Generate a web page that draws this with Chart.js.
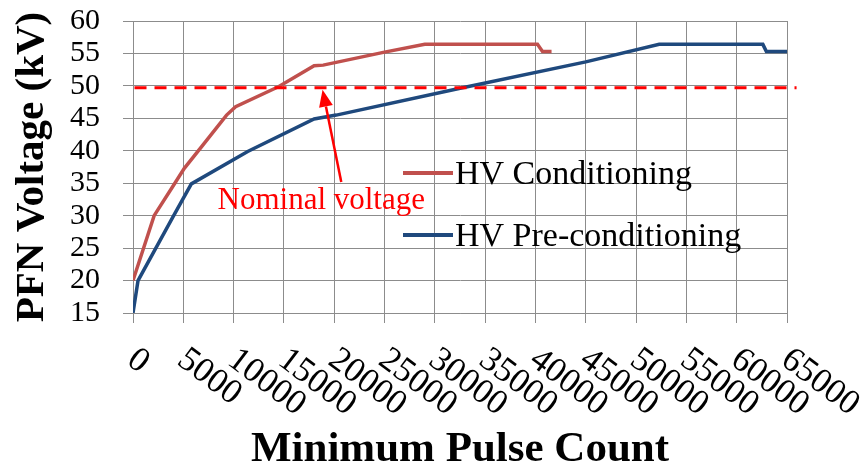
<!DOCTYPE html>
<html><head><meta charset="utf-8">
<script src="https://cdn.jsdelivr.net/npm/chart.js@4.4.1/dist/chart.umd.min.js"></script>
<style>html,body{margin:0;padding:0;background:#fff;}#wrap{width:866px;height:469px;}</style>
</head><body><div id="wrap"><canvas id="c" width="866" height="469"></canvas></div>
<script>
const xTickLabels = ['0','5000','10000','15000','20000','25000','30000','35000','40000','45000','50000','55000','60000','65000'];
const yTickLabels = ['15','20','25','30','35','40','45','50','55','60'];
const seriesNames = ['HV Conditioning','HV Pre-conditioning'];
const condCounts  = [0, 2100, 4000, 5100, 7000, 9300, 10200, 14500, 18000, 18900, 25000, 29000, 40200, 40700, 41600];
const condVoltage = [20, 30, 34.6, 37.3, 41.0, 45.5, 46.8, 49.9, 53.1, 53.2, 55.2, 56.4, 56.4, 55.3, 55.3];
const preCounts   = [0, 500, 4000, 5800, 11400, 18000, 20200, 32400, 45000, 52300, 62600, 62950, 65000];
const preVoltage  = [15, 20, 29.9, 34.9, 39.9, 44.9, 45.5, 49.6, 53.7, 56.4, 56.4, 55.3, 55.3];
const nominalCounts  = [150, 65950];
const nominalVoltage = [49.7, 49.7];
const annotText = 'Nominal voltage';
const annotTextPos = [8400, 31];
const arrowTail = [20700, 35.2];
const arrowTip  = [18840, 49.4];

const toXY = (xs, ys) => xs.map((x, i) => ({x, y: ys[i]}));
const SERIF = '"Liberation Serif", "Times New Roman", serif';
const GRID = '#8C8C8C';

const decor = {
  id: 'decor',
  afterDatasetsDraw(chart) {
    const ctx = chart.ctx, xs = chart.scales.x, ys = chart.scales.y, ca = chart.chartArea;
    ctx.save();
    ctx.font = '35px ' + SERIF;
    ctx.fillStyle = '#000';
    ctx.textAlign = 'left';
    ctx.textBaseline = 'middle';
    xs.ticks.forEach((t, i) => {
      const px = xs.getPixelForValue(t.value);
      ctx.save();
      ctx.translate(px - 2, ca.bottom + 43);
      ctx.rotate(37 * Math.PI / 180);
      ctx.fillText(xTickLabels[i], 0, 0);
      ctx.restore();
    });
    ctx.restore();

    const ds = chart.data.datasets;
    ctx.save();
    ctx.font = '34px ' + SERIF;
    ctx.textAlign = 'left';
    ctx.textBaseline = 'alphabetic';
    [0, 1].forEach((k) => {
      const ly = ca.top + 152 + k * 62;
      ctx.strokeStyle = ds[k].borderColor;
      ctx.lineWidth = 4;
      ctx.beginPath();
      ctx.moveTo(ca.left + 270, ly);
      ctx.lineTo(ca.left + 320, ly);
      ctx.stroke();
      ctx.fillStyle = '#000';
      ctx.fillText(seriesNames[k], ca.left + 322, ly + 11);
    });
    ctx.restore();

    ctx.save();
    ctx.fillStyle = '#FF0000';
    ctx.strokeStyle = '#FF0000';
    ctx.font = '31px ' + SERIF;
    ctx.textBaseline = 'alphabetic';
    ctx.fillText(annotText, xs.getPixelForValue(annotTextPos[0]), ys.getPixelForValue(annotTextPos[1]));
    const x0 = xs.getPixelForValue(arrowTail[0]), y0 = ys.getPixelForValue(arrowTail[1]);
    const x1 = xs.getPixelForValue(arrowTip[0]), y1 = ys.getPixelForValue(arrowTip[1]);
    const ang = Math.atan2(y1 - y0, x1 - x0);
    const hl = 17, hw = 7;
    const bx = x1 - hl * Math.cos(ang), by = y1 - hl * Math.sin(ang);
    ctx.lineWidth = 2.5;
    ctx.beginPath();
    ctx.moveTo(x0, y0);
    ctx.lineTo(bx, by);
    ctx.stroke();
    ctx.beginPath();
    ctx.moveTo(x1, y1);
    ctx.lineTo(bx + hw * Math.sin(ang), by - hw * Math.cos(ang));
    ctx.lineTo(bx - hw * Math.sin(ang), by + hw * Math.cos(ang));
    ctx.closePath();
    ctx.fill();
    ctx.restore();
  }
};

new Chart(document.getElementById('c'), {
  type: 'line',
  data: {
    datasets: [
      {label: seriesNames[0], data: toXY(condCounts, condVoltage), borderColor: '#C0504D', borderWidth: 3.5, pointRadius: 0, tension: 0, fill: false, order: 2},
      {label: seriesNames[1], data: toXY(preCounts, preVoltage), borderColor: '#1F497D', borderWidth: 3.5, pointRadius: 0, tension: 0, fill: false, order: 2},
      {label: annotText, data: toXY(nominalCounts, nominalVoltage), borderColor: '#FF0000', borderWidth: 3, borderDash: [12, 8], pointRadius: 0, fill: false, clip: false, order: 1}
    ]
  },
  options: {
    responsive: false,
    animation: false,
    layout: {padding: {left: 0, right: 79, top: 0, bottom: 0}},
    plugins: {legend: {display: false}, tooltip: {enabled: false}},
    scales: {
      x: {
        type: 'linear', min: 0, max: 65000,
        ticks: {stepSize: 5000, display: false, autoSkip: false, callback: (v, i) => xTickLabels[i]},
        grid: {color: GRID, lineWidth: 1, tickLength: 10},
        border: {color: GRID},
        title: {display: true, text: 'Minimum Pulse Count', color: '#000', padding: 0,
                font: {family: SERIF, size: 43, weight: 'bold', lineHeight: 0.9}},
        afterFit(s) { s.height = 156; }
      },
      y: {
        type: 'linear', min: 15, max: 60,
        ticks: {stepSize: 5, color: '#000', padding: 23, autoSkip: false,
                font: {family: SERIF, size: 30, lineHeight: 1.2},
                callback: (v, i) => yTickLabels[i]},
        grid: {color: GRID, lineWidth: 1, tickLength: 10},
        border: {color: GRID},
        title: {display: true, text: 'PFN Voltage (kV)', color: '#000', padding: {top: 12, bottom: 0},
                font: {family: SERIF, size: 41, weight: 'bold', lineHeight: 1}},
        afterFit(s) { s.width = 133; s.paddingTop = 21; s.paddingBottom = 0; }
      }
    }
  },
  plugins: [decor]
});
</script></body></html>
